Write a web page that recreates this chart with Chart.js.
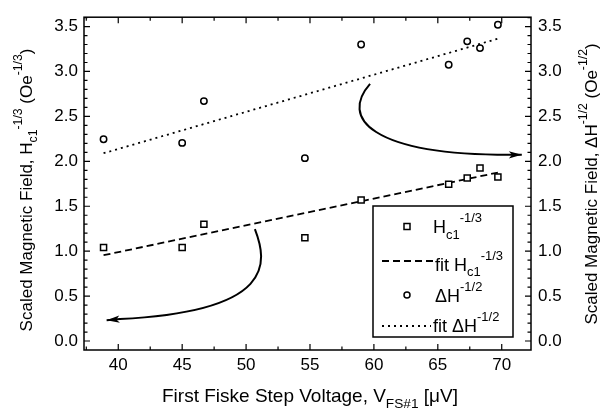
<!DOCTYPE html>
<html>
<head>
<meta charset="utf-8">
<title>Scaled magnetic field vs first Fiske step voltage</title>
<script src="https://cdn.jsdelivr.net/npm/chart.js@4.4.1/dist/chart.umd.min.js"></script>
<style>
  body { margin: 0; background: #fff; }
  #box { width: 601px; height: 415px; }
</style>
</head>
<body>
<div id="box"><canvas id="myChart" width="601" height="415"></canvas></div>
<script>
const voltage = [38.85, 45.0, 46.7, 54.6, 59.0, 65.85, 67.3, 68.3, 69.7];
const hc1 = [1.04, 1.04, 1.30, 1.15, 1.57, 1.745, 1.815, 1.925, 1.825];
const deltaH = [2.245, 2.205, 2.67, 2.035, 3.30, 3.075, 3.335, 3.26, 3.52];

// linear fits, end points only
const fitX = [38.85, 69.7];
const fitHc1 = [0.955, 1.875];
const fitDeltaH = [2.09, 3.365];

const xTicks = [40, 45, 50, 55, 60, 65, 70];
const yTicks = [0, 0.5, 1, 1.5, 2, 2.5, 3, 3.5];

// curved arrows (bezier points + tip), in data units
const arrowRight = [[59.70, 2.861], [57.35, 2.484], [59.70, 2.075], [70.58, 2.072], [71.57, 2.072]];
const arrowLeft = [[50.69, 1.245], [51.71, 0.869], [52.26, 0.331], [40.13, 0.244], [39.09, 0.230]];

const FONT = '"Liberation Sans", Arial, Helvetica, sans-serif';

function pts(xs, ys) {
  return xs.map((x, i) => ({ x: x, y: ys[i] }));
}

// text with sub/superscripts: parts = [[text, ''|'sub'|'sup'], ...]
function partsWidth(ctx, parts, size) {
  let w = 0;
  for (const p of parts) {
    ctx.font = (p[1] ? size * 0.72 : size) + 'px ' + FONT;
    w += ctx.measureText(p[0]).width;
  }
  return w;
}
function drawParts(ctx, parts, x, y, size) {
  ctx.textAlign = 'left';
  ctx.textBaseline = 'alphabetic';
  for (const p of parts) {
    ctx.font = (p[1] ? size * 0.72 : size) + 'px ' + FONT;
    let dy = 0;
    if (p[1] === 'sub') dy = size * 0.32;
    if (p[1] === 'sup') dy = -size * 0.6;
    ctx.fillText(p[0], x, y + dy);
    x += ctx.measureText(p[0]).width;
  }
}

const xTitle = [['First Fiske Step Voltage, V', ''], ['FS#1', 'sub'], [' [\u03bcV]', '']];
const leftTitle = [['Scaled Magnetic Field, H', ''], ['c1', 'sub'], ['-1/3', 'sup'], [' (Oe', ''], ['-1/3', 'sup'], [')', '']];
const rightTitle = [['Scaled Magnetic Field, \u0394H', ''], ['-1/2', 'sup'], [' (Oe', ''], ['-1/2', 'sup'], [')', '']];

const decor = {
  id: 'decor',
  afterDraw(chart) {
    const ctx = chart.ctx, a = chart.chartArea;
    const xs = chart.scales.x, ys = chart.scales.y;
    ctx.save();
    ctx.strokeStyle = '#000';
    ctx.fillStyle = '#000';
    ctx.setLineDash([]);

    // frame
    ctx.lineWidth = 1.5;
    ctx.strokeRect(a.left, a.top, a.right - a.left, a.bottom - a.top);

    // inward ticks on all four sides
    ctx.lineWidth = 1.2;
    ctx.beginPath();
    for (let v = 37.5; v <= xs.max; v += 2.5) {
      const px = xs.getPixelForValue(v);
      const len = v % 5 === 0 ? 6 : 3.5;
      ctx.moveTo(px, a.bottom); ctx.lineTo(px, a.bottom - len);
      ctx.moveTo(px, a.top); ctx.lineTo(px, a.top + len);
    }
    for (let i = 0; i <= 36; i++) {
      const py = ys.getPixelForValue(i / 10);
      const len = i % 5 === 0 ? 6 : 3.5;
      ctx.moveTo(a.left, py); ctx.lineTo(a.left + len, py);
      ctx.moveTo(a.right, py); ctx.lineTo(a.right - len, py);
    }
    ctx.stroke();

    // arrows
    function arrow(list) {
      const p = list.map(q => [xs.getPixelForValue(q[0]), ys.getPixelForValue(q[1])]);
      ctx.lineWidth = 2;
      ctx.beginPath();
      ctx.moveTo(p[0][0], p[0][1]);
      ctx.bezierCurveTo(p[1][0], p[1][1], p[2][0], p[2][1], p[3][0], p[3][1]);
      ctx.lineTo(p[4][0], p[4][1]);
      ctx.stroke();
      const tx = p[4][0], ty = p[4][1];
      const ang = Math.atan2(ty - p[3][1], tx - p[3][0]);
      const L = 13, W = 3.6, c = Math.cos(ang), s = Math.sin(ang);
      ctx.beginPath();
      ctx.moveTo(tx, ty);
      ctx.lineTo(tx - L * c + W * s, ty - L * s - W * c);
      ctx.lineTo(tx - L * 0.75 * c, ty - L * 0.75 * s);
      ctx.lineTo(tx - L * c - W * s, ty - L * s + W * c);
      ctx.closePath();
      ctx.fill();
    }
    arrow(arrowRight);
    arrow(arrowLeft);

    // axis titles
    const xSize = 19, ySize = 17;
    const xw = partsWidth(ctx, xTitle, xSize);
    drawParts(ctx, xTitle, 310 - xw / 2, 401.5, xSize);

    ctx.save();
    ctx.translate(32, 190);
    ctx.rotate(-Math.PI / 2);
    drawParts(ctx, leftTitle, -partsWidth(ctx, leftTitle, ySize) / 2, 0, ySize);
    ctx.restore();

    ctx.save();
    ctx.translate(597, 184);
    ctx.rotate(-Math.PI / 2);
    drawParts(ctx, rightTitle, -partsWidth(ctx, rightTitle, ySize) / 2, 0, ySize);
    ctx.restore();

    // legend box
    const lx = 373, ly = 206, lw = 140, lh = 131;
    ctx.lineWidth = 1.5;
    ctx.strokeRect(lx, ly, lw, lh);
    const lSize = 18;
    const symX = lx + 34;
    // row 1: squares
    ctx.lineWidth = 1.5;
    ctx.strokeRect(symX - 3, 226.5 - 3, 6, 6);
    drawParts(ctx, [['H', ''], ['c1', 'sub'], ['-1/3', 'sup']], lx + 60, 233, lSize);
    // row 2: dashed fit
    ctx.lineWidth = 1.8;
    ctx.setLineDash([7, 4]);
    ctx.beginPath(); ctx.moveTo(lx + 9, 261); ctx.lineTo(lx + 60, 261); ctx.stroke();
    ctx.setLineDash([]);
    drawParts(ctx, [['fit H', ''], ['c1', 'sub'], ['-1/3', 'sup']], lx + 62, 270.5, lSize);
    // row 3: circles
    ctx.lineWidth = 1.5;
    ctx.beginPath(); ctx.arc(symX, 295, 3, 0, Math.PI * 2); ctx.stroke();
    drawParts(ctx, [['\u0394H', ''], ['-1/2', 'sup']], lx + 62, 301.5, lSize);
    // row 4: dotted fit
    ctx.lineWidth = 1.8;
    ctx.setLineDash([2, 4]);
    ctx.beginPath(); ctx.moveTo(lx + 9, 326); ctx.lineTo(lx + 58, 326); ctx.stroke();
    ctx.setLineDash([]);
    drawParts(ctx, [['fit \u0394H', ''], ['-1/2', 'sup']], lx + 60, 331.5, lSize);

    ctx.restore();
  }
};

const tickFont = { family: FONT, size: 17 };

function yAxis(pos) {
  return {
    type: 'linear',
    position: pos,
    min: -0.1,
    max: 3.604,
    grid: { display: false, drawTicks: false },
    border: { display: false },
    ticks: {
      color: '#000',
      font: tickFont,
      padding: pos === 'left' ? 6 : 7,
      callback: v => Number(v).toFixed(1)
    },
    afterBuildTicks: s => { s.ticks = yTicks.map(v => ({ value: v })); },
    afterFit: s => { s.width = pos === 'left' ? 84 : 70; }
  };
}

new Chart(document.getElementById('myChart'), {
  type: 'scatter',
  data: {
    datasets: [
      {
        label: 'Hc1^-1/3',
        data: pts(voltage, hc1),
        pointStyle: 'rect',
        pointRadius: 4.3,
        pointBorderWidth: 1.5,
        pointBorderColor: '#000',
        pointBackgroundColor: '#fff',
        showLine: false
      },
      {
        label: 'fit Hc1^-1/3',
        data: pts(fitX, fitHc1),
        showLine: true,
        pointRadius: 0,
        borderColor: '#000',
        borderWidth: 1.8,
        borderDash: [7, 4]
      },
      {
        label: 'dH^-1/2',
        data: pts(voltage, deltaH),
        pointStyle: 'circle',
        pointRadius: 3.2,
        pointBorderWidth: 1.5,
        pointBorderColor: '#000',
        pointBackgroundColor: '#fff',
        showLine: false
      },
      {
        label: 'fit dH^-1/2',
        data: pts(fitX, fitDeltaH),
        showLine: true,
        pointRadius: 0,
        borderColor: '#000',
        borderWidth: 1.8,
        borderDash: [2, 4]
      }
    ]
  },
  options: {
    responsive: false,
    animation: false,
    layout: { padding: { top: 6, left: 0, right: 0, bottom: 0 } },
    plugins: { legend: { display: false }, tooltip: { enabled: false } },
    scales: {
      x: {
        type: 'linear',
        min: 37.32,
        max: 72.29,
        grid: { display: false, drawTicks: false },
        border: { display: false },
        ticks: { color: '#000', font: tickFont, padding: 5 },
        afterBuildTicks: s => { s.ticks = xTicks.map(v => ({ value: v })); },
        afterFit: s => { s.height = 65; }
      },
      y: yAxis('left'),
      y2: yAxis('right')
    }
  },
  plugins: [decor]
});
</script>
</body>
</html>
